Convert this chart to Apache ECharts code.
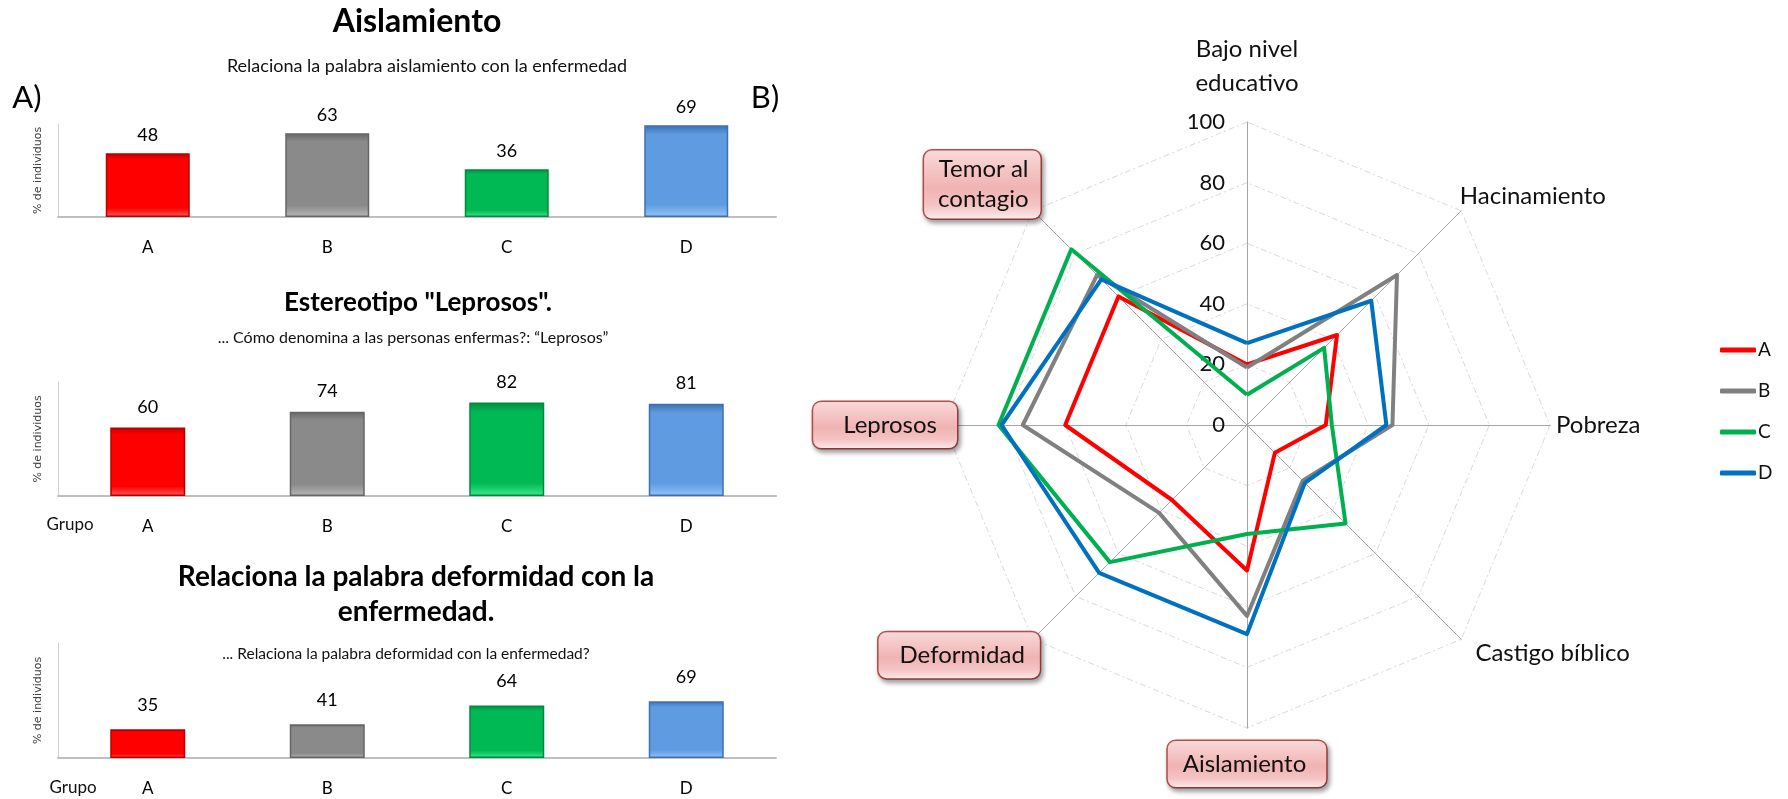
<!DOCTYPE html>
<html>
<head>
<meta charset="utf-8">
<script src="https://cdn.jsdelivr.net/npm/echarts@6/dist/echarts.min.js"></script>
<style>
  html, body { margin: 0; padding: 0; background: #ffffff; }
  #chart { width: 1788px; height: 799px; }
</style>
</head>
<body>
<div id="chart"></div>
<script>
// ---- data ----------------------------------------------------------
const groups = ['A', 'B', 'C', 'D'];

// % of individuals per group (also used by the radar)
const aislamiento = [48, 63, 36, 69];
const leprosos = [60, 74, 82, 81];
const deformidad = [35, 41, 64, 69];
const bajoNivelEducativo = [20, 19, 10, 27];
const temorAlContagio = [60, 70, 82, 68];
const castigoBiblico = [13, 26, 46, 27];
const pobreza = [26, 48, 28, 46];
const hacinamiento = [42, 70, 36, 58];

// radar scale: 0 … 100 in steps of 20
const radarMax = 100;
const radarSplits = 5;

// ---- styling ---------------------------------------------------------
const FONT = 'Lato, "Open Sans", sans-serif';
const lineColors = ['#FF0000', '#808080', '#00B050', '#0070C0'];
const barColors = [
  { dark: '#B80000', base: '#FF0000', light: '#FF5A5A' },
  { dark: '#666666', base: '#8A8A8A', light: '#B8B8B8' },
  { dark: '#008A3E', base: '#00B954', light: '#3FE88D' },
  { dark: '#3C70B3', base: '#5E9BE0', light: '#93C4F7' }
];

function bevel(c) {
  return new echarts.graphic.LinearGradient(0, 0, 0, 1, [
    { offset: 0, color: c.dark },
    { offset: 0.1, color: c.base },
    { offset: 0.86, color: c.base },
    { offset: 1, color: c.light }
  ]);
}

// three bar panels (left column)
const panels = [
  { values: aislamiento, top: 124, height: 93, max: 70, barWidth: 84, labelGap: 9 },
  { values: leprosos, top: 382, height: 114, max: 100, barWidth: 75, labelGap: 11 },
  { values: deformidad, top: 643, height: 115, max: 140, barWidth: 75, labelGap: 15 }
];

const grids = [], xAxes = [], yAxes = [], series = [];
panels.forEach((p, i) => {
  grids.push({ left: 58, width: 718, top: p.top, height: p.height });
  xAxes.push({
    type: 'category', gridIndex: i, data: groups,
    axisLine: { lineStyle: { color: '#BFBFBF', width: 2 } },
    axisTick: { show: false },
    axisLabel: { margin: 22, fontFamily: FONT, fontSize: 17, color: '#000' }
  });
  yAxes.push({
    type: 'value', gridIndex: i, min: 0, max: p.max,
    name: '% de individuos', nameLocation: 'middle', nameRotate: 90, nameGap: 14,
    nameTextStyle: { fontFamily: '"DejaVu Sans", sans-serif', fontSize: 11, color: '#404040' },
    axisLine: { show: true, lineStyle: { color: '#D0D0D0', width: 1 } },
    axisTick: { show: false }, axisLabel: { show: false }, splitLine: { show: false }
  });
  series.push({
    type: 'bar', xAxisIndex: i, yAxisIndex: i, barWidth: p.barWidth,
    data: p.values.map((v, k) => ({
      value: v,
      itemStyle: { color: bevel(barColors[k]), borderColor: barColors[k].dark, borderWidth: 1.5 }
    })),
    label: { show: true, position: 'top', distance: p.labelGap, fontFamily: FONT, fontSize: 18, color: '#000' }
  });
});

// ---- radar (right) ---------------------------------------------------
const boxStyle = (pad, vAlign) => {
  const s = {
    color: '#111', fontFamily: FONT, fontSize: 24, lineHeight: 30,
    backgroundColor: new echarts.graphic.LinearGradient(0, 0, 0, 1, [
      { offset: 0, color: '#FADADA' },
      { offset: 0.55, color: '#F0B3B3' },
      { offset: 0.8, color: '#F4C4C4' },
      { offset: 1, color: '#FDEDED' }
    ]),
    borderColor: '#B9504C', borderWidth: 1.5, borderRadius: 8, padding: pad,
    shadowColor: 'rgba(0,0,0,0.35)', shadowBlur: 5, shadowOffsetX: 2, shadowOffsetY: 3
  };
  if (vAlign) s.verticalAlign = vAlign;
  return s;
};

// indicator order runs counter-clockwise from the top
const radarAxes = [
  { name: 'Bajo nivel\neducativo', values: bajoNivelEducativo, nameGap: 22,
    nameTextStyle: { lineHeight: 34 },
    axisLabel: { show: true, margin: 22, fontFamily: FONT, fontSize: 22, color: '#111' } },
  { name: 'Temor al\ncontagio', values: temorAlContagio, nameGap: -11, nameTextStyle: boxStyle([4, 12, 4, 14], 'bottom') },
  { name: 'Leprosos', values: leprosos, nameGap: -13, nameTextStyle: boxStyle([8, 20, 8, 30]) },
  { name: 'Deformidad', values: deformidad, nameGap: -10, nameTextStyle: boxStyle([8, 15, 8, 21], 'top') },
  { name: 'Aislamiento', values: aislamiento, nameGap: 13, nameTextStyle: boxStyle([8, 20, 8, 15]) },
  { name: 'Castigo bíblico', values: castigoBiblico, nameGap: 20 },
  { name: 'Pobreza', values: pobreza, nameGap: 6 },
  { name: 'Hacinamiento', values: hacinamiento, nameGap: -2, nameTextStyle: { verticalAlign: 'bottom' } }
];

const indicators = radarAxes.map(a => {
  const ind = { name: a.name, min: 0, max: radarMax, nameGap: a.nameGap };
  if (a.nameTextStyle) ind.nameTextStyle = a.nameTextStyle;
  if (a.axisLabel) ind.axisLabel = a.axisLabel;
  return ind;
});

series.push({
  type: 'radar', radarIndex: 0, symbol: 'none',
  data: groups.map((g, k) => ({
    name: g,
    value: radarAxes.map(a => a.values[k]),
    lineStyle: { color: lineColors[k], width: 4 },
    itemStyle: { color: lineColors[k] }
  }))
});

const option = {
  animation: false,
  backgroundColor: '#ffffff',
  grid: grids, xAxis: xAxes, yAxis: yAxes,
  radar: {
    center: [1247, 425], radius: 303, startAngle: 90, shape: 'polygon', splitNumber: radarSplits,
    indicator: indicators,
    axisName: { color: '#111', fontFamily: FONT, fontSize: 24, lineHeight: 32 },
    axisNameGap: 8,
    axisLine: { lineStyle: { color: '#A6A6A6', width: 1 } },
    splitLine: { lineStyle: { color: '#D9D9D9', width: 1, type: [6, 3, 2, 3] } },
    splitArea: { show: false },
    axisTick: { show: false },
    axisLabel: { show: false }
  },
  legend: {
    orient: 'vertical', left: 1720, top: 340, padding: 0,
    itemWidth: 36, itemHeight: 5, itemGap: 21, icon: 'roundRect',
    data: groups,
    textStyle: { fontFamily: FONT, fontSize: 19, lineHeight: 20, color: '#111', padding: [0, 0, 0, -3] }
  },
  graphic: [
    { type: 'text', x: 417, y: 22, style: { text: 'Aislamiento', font: 'bold 32px ' + FONT, fill: '#000', align: 'center', verticalAlign: 'middle' } },
    { type: 'text', x: 427, y: 66, style: { text: 'Relaciona la palabra aislamiento con la enfermedad', font: '18px ' + FONT, fill: '#111', align: 'center', verticalAlign: 'middle' } },
    { type: 'text', x: 418, y: 303, style: { text: 'Estereotipo "Leprosos".', font: 'bold 26px ' + FONT, fill: '#000', align: 'center', verticalAlign: 'middle' } },
    { type: 'text', x: 413, y: 338, style: { text: '... Cómo denomina a las personas enfermas?: “Leprosos”', font: '16px ' + FONT, fill: '#111', align: 'center', verticalAlign: 'middle' } },
    { type: 'text', x: 416, y: 577, style: { text: 'Relaciona la palabra deformidad con la', font: 'bold 28px ' + FONT, fill: '#000', align: 'center', verticalAlign: 'middle' } },
    { type: 'text', x: 416, y: 612, style: { text: 'enfermedad.', font: 'bold 28px ' + FONT, fill: '#000', align: 'center', verticalAlign: 'middle' } },
    { type: 'text', x: 406, y: 654, style: { text: '... Relaciona la palabra deformidad con la enfermedad?', font: '15.5px ' + FONT, fill: '#111', align: 'center', verticalAlign: 'middle' } },
    { type: 'text', x: 27, y: 98, style: { text: 'A)', font: '31px ' + FONT, fill: '#000', align: 'center', verticalAlign: 'middle' } },
    { type: 'text', x: 765, y: 98, style: { text: 'B)', font: '31px ' + FONT, fill: '#000', align: 'center', verticalAlign: 'middle' } },
    { type: 'text', x: 70, y: 525, style: { text: 'Grupo', font: '17px ' + FONT, fill: '#111', align: 'center', verticalAlign: 'middle' } },
    { type: 'text', x: 73, y: 788, style: { text: 'Grupo', font: '17px ' + FONT, fill: '#111', align: 'center', verticalAlign: 'middle' } }
  ],
  series: series
};

const chart = echarts.init(document.getElementById('chart'), null, { renderer: 'canvas' });
chart.setOption(option);
</script>
</body>
</html>
